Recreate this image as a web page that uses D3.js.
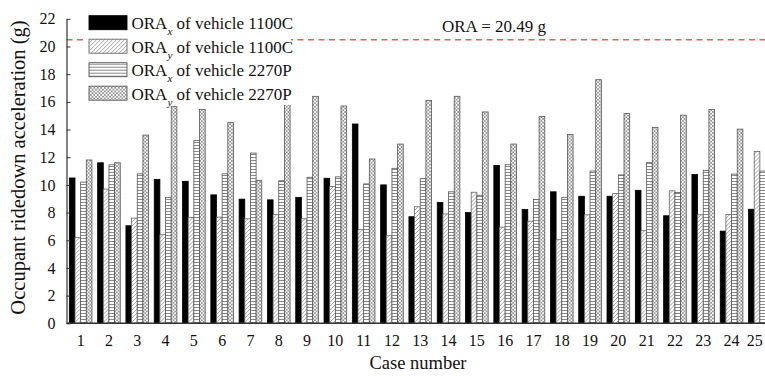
<!DOCTYPE html>
<html>
<head>
<meta charset="utf-8">
<script src="https://cdn.jsdelivr.net/npm/d3@7/dist/d3.min.js"></script>
<style>
  html, body { margin: 0; padding: 0; background: #fff; }
  svg { display: block; font-family: "Liberation Serif", "Times New Roman", serif; }
</style>
</head>
<body>
<svg id="chart" width="765" height="376"></svg>
<script>
// Case numbers along the x axis
const cases = d3.range(1, 26).map(String);

// Occupant ridedown acceleration (g) per case
const oraX1100C = [10.5, 11.6, 7.05, 10.4, 10.26, 9.28, 8.97, 8.92, 9.1, 10.48, 14.4, 10.0, 7.7, 8.73, 8.0, 11.4, 8.22, 9.5, 9.18, 9.18, 9.61, 7.77, 10.76, 6.66, 8.24];
const oraY1100C = [6.2, 9.7, 7.6, 6.4, 7.65, 7.67, 7.55, 7.85, 7.55, 9.88, 6.76, 6.33, 8.42, 7.9, 9.47, 6.95, 7.38, 6.04, 7.84, 9.37, 6.69, 9.57, 7.84, 7.86, 12.42];
const oraX2270P = [10.2, 11.45, 10.8, 9.1, 13.2, 10.8, 12.3, 10.3, 10.55, 10.58, 10.07, 11.2, 10.45, 9.5, 9.25, 11.46, 8.94, 9.1, 11.0, 10.72, 11.63, 9.45, 11.05, 10.78, 11.0];
const oraY2270P = [11.8, 11.6, 13.6, 15.65, 15.45, 14.5, 10.33, 15.9, 16.4, 15.7, 11.87, 12.95, 16.1, 16.4, 15.27, 12.95, 14.94, 13.64, 17.6, 15.15, 14.14, 15.04, 15.44, 14.03, 13.42];

// Threshold value
const oraLimit = 20.49;

const yTicks = [0, 2, 4, 6, 8, 10, 12, 14, 16, 18, 20, 22];

const series = [
  { key: "x1100", values: oraX1100C, sub: "x", vehicle: "1100C", fill: "#000", stroke: "#000" },
  { key: "y1100", values: oraY1100C, sub: "y", vehicle: "1100C", fill: "url(#pDiag)", stroke: "#666" },
  { key: "x2270", values: oraX2270P, sub: "x", vehicle: "2270P", fill: "url(#pHoriz)", stroke: "#555" },
  { key: "y2270", values: oraY2270P, sub: "y", vehicle: "2270P", fill: "url(#pCross)", stroke: "#555" }
];

const svg = d3.select("#chart");

// Fill patterns
const defs = svg.append("defs");
const diag = defs.append("pattern").attr("id", "pDiag")
  .attr("patternUnits", "userSpaceOnUse").attr("width", 4).attr("height", 4);
diag.append("rect").attr("width", 4).attr("height", 4).attr("fill", "#fff");
diag.append("path").attr("d", "M0,4 L4,0 M-1,1 L1,-1 M3,5 L5,3")
  .attr("stroke", "#8a8a8a").attr("stroke-width", 0.8);

const horiz = defs.append("pattern").attr("id", "pHoriz")
  .attr("patternUnits", "userSpaceOnUse").attr("width", 4).attr("height", 3);
horiz.append("rect").attr("width", 4).attr("height", 3).attr("fill", "#fff");
horiz.append("line").attr("x1", 0).attr("x2", 4).attr("y1", 1.5).attr("y2", 1.5)
  .attr("stroke", "#6a6a6a").attr("stroke-width", 0.8);

const cross = defs.append("pattern").attr("id", "pCross")
  .attr("patternUnits", "userSpaceOnUse").attr("width", 3.5).attr("height", 3.5);
cross.append("rect").attr("width", 3.5).attr("height", 3.5).attr("fill", "#fff");
cross.append("path").attr("d", "M0,0 L3.5,3.5 M0,3.5 L3.5,0")
  .attr("stroke", "#7a7a7a").attr("stroke-width", 0.7);

// Scales
const x = d3.scaleBand().domain(cases).range([66.5, 774]).paddingInner(0.2).paddingOuter(0.1);
const xSub = d3.scaleBand().domain(series.map(s => s.key)).range([0, x.bandwidth()]);
const y = d3.scaleLinear().domain([0, 22]).range([323.3, 18.8]);

// Bars
const groups = svg.append("g").selectAll("g")
  .data(cases)
  .join("g")
  .attr("transform", d => `translate(${x(d)},0)`);

groups.selectAll("rect")
  .data((c, i) => series.map(s => ({ s, v: s.values[i] })))
  .join("rect")
  .attr("x", d => xSub(d.s.key))
  .attr("y", d => y(d.v))
  .attr("width", xSub.bandwidth())
  .attr("height", d => y(0) - y(d.v))
  .attr("fill", d => d.s.fill)
  .attr("stroke", d => d.s.stroke)
  .attr("stroke-width", 0.8);

// Threshold line
const yLimit = y(oraLimit);
svg.append("line")
  .attr("x1", 66.5).attr("x2", 765)
  .attr("y1", yLimit).attr("y2", yLimit)
  .attr("stroke", "#ef5b5b").attr("stroke-width", 1.5)
  .attr("stroke-dasharray", "6,4.5");

svg.append("text")
  .attr("x", 546).attr("y", yLimit - 8)
  .attr("text-anchor", "end")
  .attr("font-size", 17)
  .attr("fill", "#111")
  .text(`ORA = ${oraLimit} g`);

// Y axis
const yAxis = svg.append("g")
  .attr("transform", "translate(66.5,0)")
  .call(d3.axisLeft(y).tickValues(yTicks).tickFormat(d3.format("d"))
    .tickSizeInner(-4).tickSizeOuter(0).tickPadding(11));
yAxis.select(".domain").attr("stroke", "#333").attr("stroke-width", 1.2);
yAxis.selectAll(".tick line").attr("stroke", "#333").attr("stroke-width", 1);
yAxis.selectAll(".tick text").attr("font-size", 16).attr("fill", "#111")
  .attr("font-family", "Liberation Serif, serif");

// X axis
const xAxis = svg.append("g")
  .attr("transform", `translate(0,${y(0)})`)
  .call(d3.axisBottom(x).tickSize(0).tickPadding(11));
xAxis.select(".domain").attr("stroke", "#333").attr("stroke-width", 1.4)
  .attr("d", `M66.5,0H765`);
xAxis.selectAll(".tick text").attr("font-size", 16).attr("fill", "#111")
  .attr("font-family", "Liberation Serif, serif")
  // keep the last case number inside the right edge
  .attr("dx", d => d === cases[cases.length - 1] ? -5 : 0);

// Axis titles
svg.append("text")
  .attr("x", 418).attr("y", 369)
  .attr("text-anchor", "middle")
  .attr("font-size", 18.5)
  .attr("fill", "#111")
  .text("Case number");

svg.append("text")
  .attr("transform", "translate(25,167.5) rotate(-90)")
  .attr("text-anchor", "middle")
  .attr("font-size", 20.5)
  .attr("fill", "#111")
  .text("Occupant ridedown acceleration (g)");

// Legend
const legend = svg.append("g");
legend.append("rect")
  .attr("x", 85).attr("y", 11).attr("width", 206).attr("height", 94)
  .attr("fill", "#fff");

const rowY = [15.7, 39.2, 62.7, 86.2];
const items = legend.selectAll("g.item")
  .data(series)
  .join("g")
  .attr("class", "item")
  .attr("transform", (d, i) => `translate(89,${rowY[i]})`);

items.append("rect")
  .attr("width", 38).attr("height", 14)
  .attr("fill", d => d.fill)
  .attr("stroke", d => d.stroke)
  .attr("stroke-width", 0.9);

const label = items.append("text")
  .attr("x", 42.5).attr("y", 13.6)
  .attr("font-size", 17)
  .attr("fill", "#111");
label.append("tspan").text("ORA");
label.append("tspan")
  .attr("dy", 6).attr("font-size", 11).attr("font-style", "italic")
  .text(d => d.sub);
label.append("tspan")
  .attr("dy", -6)
  .text(d => ` of vehicle ${d.vehicle}`);
</script>
</body>
</html>
